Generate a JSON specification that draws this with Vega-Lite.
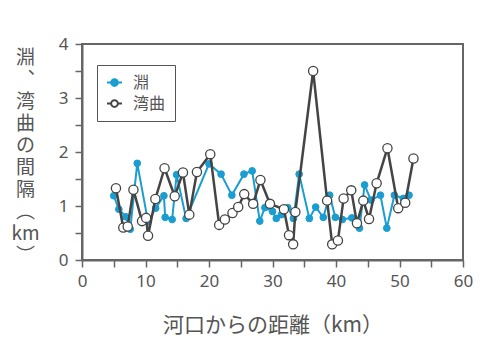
{
  "$schema": "https://vega.github.io/schema/vega-lite/v6.json",
  "width": 381,
  "height": 216,
  "autosize": {"type": "none"},
  "padding": {"left": 82, "top": 44, "right": 17, "bottom": 101},
  "background": "white",
  "config": {
    "view": {"stroke": "#666", "strokeWidth": 2},
    "font": "Noto Sans",
    "axis": {
      "grid": false,
      "domainColor": "#666",
      "domainWidth": 2,
      "tickColor": "#666",
      "tickWidth": 1.5,
      "tickSize": 7,
      "labelColor": "#555",
      "labelFontSize": 17,
      "labelFont": "Noto Sans",
      "labelOverlap": false,
      "titleColor": "#555",
      "titleFont": "Noto Sans CJK JP",
      "titleFontWeight": "normal"
    }
  },
  "data": {
    "values": [
      {"s": "淵", "km": 5.0, "v": 1.19},
      {"s": "淵", "km": 5.8, "v": 0.94},
      {"s": "淵", "km": 6.9, "v": 0.8},
      {"s": "淵", "km": 7.6, "v": 0.57},
      {"s": "淵", "km": 8.7, "v": 1.79},
      {"s": "淵", "km": 10.4, "v": 0.71},
      {"s": "淵", "km": 11.6, "v": 0.96},
      {"s": "淵", "km": 12.9, "v": 1.19},
      {"s": "淵", "km": 13.1, "v": 0.79},
      {"s": "淵", "km": 14.2, "v": 0.75},
      {"s": "淵", "km": 14.9, "v": 1.58},
      {"s": "淵", "km": 16.4, "v": 0.77},
      {"s": "淵", "km": 20.0, "v": 1.78},
      {"s": "淵", "km": 21.9, "v": 1.59},
      {"s": "淵", "km": 23.6, "v": 1.2},
      {"s": "淵", "km": 25.5, "v": 1.59},
      {"s": "淵", "km": 26.8, "v": 1.65},
      {"s": "淵", "km": 28.0, "v": 0.72},
      {"s": "淵", "km": 28.8, "v": 0.97},
      {"s": "淵", "km": 30.0, "v": 0.9},
      {"s": "淵", "km": 30.6, "v": 0.77},
      {"s": "淵", "km": 31.4, "v": 0.84},
      {"s": "淵", "km": 32.4, "v": 0.97},
      {"s": "淵", "km": 33.3, "v": 0.77},
      {"s": "淵", "km": 34.2, "v": 1.59},
      {"s": "淵", "km": 35.8, "v": 0.77},
      {"s": "淵", "km": 36.8, "v": 0.98},
      {"s": "淵", "km": 38.0, "v": 0.79},
      {"s": "淵", "km": 39.0, "v": 1.2},
      {"s": "淵", "km": 39.9, "v": 0.79},
      {"s": "淵", "km": 41.0, "v": 0.75},
      {"s": "淵", "km": 42.5, "v": 0.78},
      {"s": "淵", "km": 43.7, "v": 0.59},
      {"s": "淵", "km": 44.5, "v": 1.39},
      {"s": "淵", "km": 45.5, "v": 1.11},
      {"s": "淵", "km": 47.0, "v": 1.2},
      {"s": "淵", "km": 48.0, "v": 0.59},
      {"s": "淵", "km": 49.2, "v": 1.2},
      {"s": "淵", "km": 50.6, "v": 1.14},
      {"s": "淵", "km": 51.5, "v": 1.2},
      {"s": "湾曲", "km": 5.35, "v": 1.33},
      {"s": "湾曲", "km": 6.5, "v": 0.6},
      {"s": "湾曲", "km": 7.2, "v": 0.62},
      {"s": "湾曲", "km": 8.1, "v": 1.3},
      {"s": "湾曲", "km": 9.45, "v": 0.72},
      {"s": "湾曲", "km": 10.1, "v": 0.78},
      {"s": "湾曲", "km": 10.4, "v": 0.45},
      {"s": "湾曲", "km": 11.55, "v": 1.13},
      {"s": "湾曲", "km": 13.0, "v": 1.7},
      {"s": "湾曲", "km": 14.6, "v": 1.18},
      {"s": "湾曲", "km": 15.9, "v": 1.62},
      {"s": "湾曲", "km": 16.9, "v": 0.84},
      {"s": "湾曲", "km": 18.1, "v": 1.63},
      {"s": "湾曲", "km": 20.2, "v": 1.96},
      {"s": "湾曲", "km": 21.6, "v": 0.65},
      {"s": "湾曲", "km": 22.5, "v": 0.75},
      {"s": "湾曲", "km": 23.7, "v": 0.87},
      {"s": "湾曲", "km": 24.6, "v": 0.98},
      {"s": "湾曲", "km": 25.55, "v": 1.22},
      {"s": "湾曲", "km": 26.95, "v": 1.04},
      {"s": "湾曲", "km": 28.1, "v": 1.48},
      {"s": "湾曲", "km": 29.6, "v": 1.04},
      {"s": "湾曲", "km": 31.8, "v": 0.94},
      {"s": "湾曲", "km": 32.6, "v": 0.46},
      {"s": "湾曲", "km": 33.25, "v": 0.29},
      {"s": "湾曲", "km": 33.6, "v": 0.89},
      {"s": "湾曲", "km": 36.4, "v": 3.5},
      {"s": "湾曲", "km": 38.6, "v": 1.1},
      {"s": "湾曲", "km": 39.4, "v": 0.29},
      {"s": "湾曲", "km": 40.3, "v": 0.36},
      {"s": "湾曲", "km": 41.2, "v": 1.14},
      {"s": "湾曲", "km": 42.4, "v": 1.29},
      {"s": "湾曲", "km": 43.3, "v": 0.68},
      {"s": "湾曲", "km": 44.3, "v": 1.1},
      {"s": "湾曲", "km": 45.2, "v": 0.76},
      {"s": "湾曲", "km": 46.4, "v": 1.42},
      {"s": "湾曲", "km": 48.1, "v": 2.07},
      {"s": "湾曲", "km": 49.8, "v": 0.96},
      {"s": "湾曲", "km": 50.9, "v": 1.06},
      {"s": "湾曲", "km": 52.2, "v": 1.88}
    ]
  },
  "encoding": {
    "x": {
      "field": "km",
      "type": "quantitative",
      "scale": {"domain": [0, 60], "nice": false},
      "axis": {
        "values": [0, 5, 10, 15, 20, 25, 30, 35, 40, 45, 50, 55, 60],
        "labelExpr": "datum.value % 10 === 0 ? format(datum.value, 'd') : ''",
        "labelFlush": false,
        "labelPadding": 6,
        "title": "河口からの距離（km）",
        "titleFontSize": 21,
        "titleY": 65,
        "titleBaseline": "middle"
      }
    },
    "y": {
      "field": "v",
      "type": "quantitative",
      "scale": {"domain": [0, 4], "nice": false},
      "axis": {
        "values": [0, 0.5, 1, 1.5, 2, 2.5, 3, 3.5, 4],
        "labelExpr": "datum.value % 1 === 0 ? format(datum.value, 'd') : ''",
        "labelPadding": 7,
        "title": ["淵", "︑", "湾", "曲", "の", "間", "隔", "︵", "km", "︶"],
        "titleAngle": 0,
        "titleAlign": "center",
        "titleBaseline": "middle",
        "titleX": -57,
        "titleY": 13,
        "titleFontSize": 19,
        "titleLineHeight": 22
      }
    }
  },
  "layer": [
    {
      "transform": [{"filter": "datum.s === '淵'"}],
      "mark": {"type": "line", "strokeWidth": 2},
      "encoding": {
        "stroke": {
          "field": "s",
          "type": "nominal",
          "scale": {"domain": ["淵", "湾曲"], "range": ["#1a9dd0", "#444444"]},
          "legend": {
            "title": null,
            "orient": "none",
            "legendX": 15,
            "legendY": 21,
            "strokeColor": "#555",
            "padding": 9,
            "symbolType": "M-1,0L-0.45,0M0.45,0L1,0M-0.45,0A0.45,0.45,0,1,1,0.45,0A0.45,0.45,0,1,1,-0.45,0",
            "symbolSize": 225,
            "symbolStrokeWidth": 2,
            "labelFont": "Noto Sans CJK JP",
            "labelFontSize": 16,
            "labelColor": "#555",
            "labelOffset": 10,
            "rowPadding": 4
          }
        }
      }
    },
    {
      "transform": [{"filter": "datum.s === '淵'"}],
      "mark": {"type": "point", "filled": true, "size": 45, "strokeWidth": 1, "opacity": 1},
      "encoding": {
        "stroke": {"field": "s", "type": "nominal"},
        "fill": {
          "field": "s",
          "type": "nominal",
          "scale": {"domain": ["淵", "湾曲"], "range": ["#1a9dd0", "#ffffff"]},
          "legend": {
            "title": null,
            "orient": "none",
            "legendX": 15,
            "legendY": 21,
            "strokeColor": "#555",
            "padding": 9,
            "symbolType": "M-1,0L-0.45,0M0.45,0L1,0M-0.45,0A0.45,0.45,0,1,1,0.45,0A0.45,0.45,0,1,1,-0.45,0",
            "symbolSize": 225,
            "symbolStrokeWidth": 2,
            "labelFont": "Noto Sans CJK JP",
            "labelFontSize": 16,
            "labelColor": "#555",
            "labelOffset": 10,
            "rowPadding": 4
          }
        }
      }
    },
    {
      "transform": [{"filter": "datum.s === '湾曲'"}],
      "mark": {"type": "line", "strokeWidth": 2.5},
      "encoding": {
        "stroke": {"field": "s", "type": "nominal"}
      }
    },
    {
      "transform": [{"filter": "datum.s === '湾曲'"}],
      "mark": {"type": "point", "filled": true, "size": 85, "strokeWidth": 1.3, "opacity": 1},
      "encoding": {
        "stroke": {"field": "s", "type": "nominal"},
        "fill": {"field": "s", "type": "nominal"}
      }
    }
  ]
}
